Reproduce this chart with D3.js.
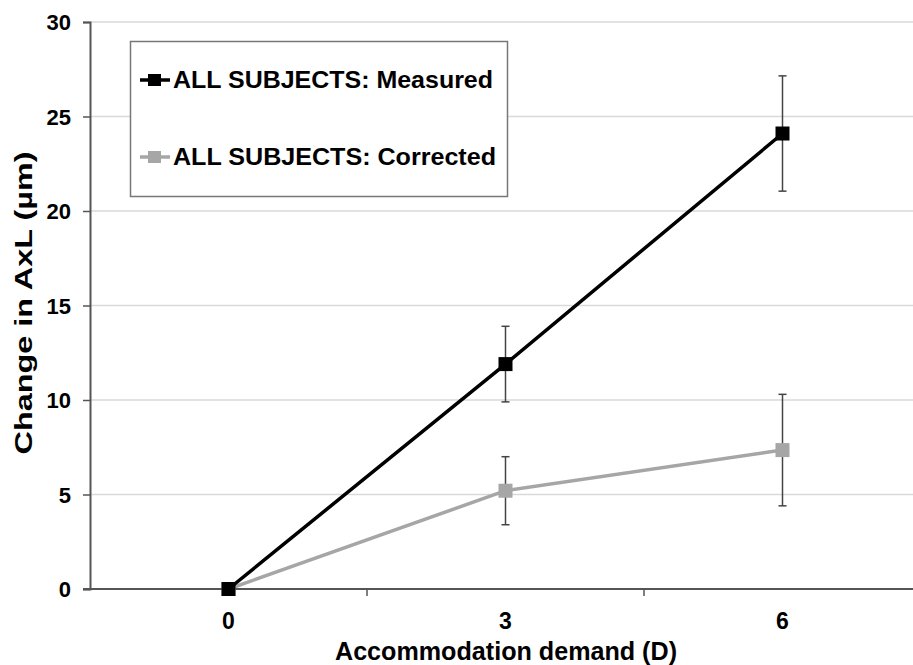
<!DOCTYPE html>
<html>
<head>
<meta charset="utf-8">
<script src="https://cdn.jsdelivr.net/npm/d3@7"></script>
<style>
  body { margin: 0; background: #fff; }
  text { font-family: "Liberation Sans", Arial, sans-serif; font-weight: bold; fill: #000; }
</style>
</head>
<body>
<div id="chart"></div>
<script>
// demand levels (D)
var demands = ["0", "3", "6"];
var measured = [0, 11.9, 24.1];
var measuredErr = [0, 2.0, 3.05];
var corrected = [0, 5.2, 7.35];
var correctedErr = [0, 1.8, 2.95];
var yTicks = [0, 5, 10, 15, 20, 25, 30];

var series = [
  { name: "ALL SUBJECTS: Measured", values: measured, err: measuredErr, color: "#000" },
  { name: "ALL SUBJECTS: Corrected", values: corrected, err: correctedErr, color: "#a6a6a6" }
];

var svg = d3.select("#chart")
    .append("svg")
    .attr("width", 913)
    .attr("height", 665);

var x = d3.scaleBand().domain(demands).range([90, 921]);
var y = d3.scaleLinear().domain([0, 30]).range([589, 22]);

// grid
svg.append("g")
    .selectAll("line")
    .data(yTicks.filter(function(d) { return d > 0; }))
    .enter().append("line")
    .attr("x1", 90).attr("x2", 913)
    .attr("y1", function(d) { return y(d); })
    .attr("y2", function(d) { return y(d); })
    .attr("stroke", "#d9d9d9")
    .attr("stroke-width", 1.5);

// y axis
var yAxis = svg.append("g")
    .attr("transform", "translate(90,0)")
    .call(d3.axisLeft(y).tickValues(yTicks).tickSize(7).tickPadding(12));
yAxis.select(".domain").attr("stroke", "#555").attr("stroke-width", 2);
yAxis.selectAll(".tick line").attr("stroke", "#555").attr("stroke-width", 1.5);
yAxis.selectAll(".tick text")
    .attr("dy", "0.36em")
    .style("font-size", "22px").style("font-family", "Liberation Sans, Arial, sans-serif").style("font-weight", "bold");

// x axis
var xAxis = svg.append("g")
    .attr("transform", "translate(0,589)")
    .call(d3.axisBottom(x).tickSize(0).tickPadding(24));
xAxis.select(".domain").remove();
xAxis.selectAll(".tick text")
    .style("font-size", "23px").style("font-family", "Liberation Sans, Arial, sans-serif").style("font-weight", "bold");
svg.append("line")
    .attr("x1", 83).attr("x2", 913)
    .attr("y1", 589).attr("y2", 589)
    .attr("stroke", "#555").attr("stroke-width", 2);
var bounds = demands.map(function(d) { return x(d); }).concat([x.range()[1]]);
svg.append("g")
    .selectAll("line")
    .data(bounds.slice(1))
    .enter().append("line")
    .attr("x1", function(d) { return d; }).attr("x2", function(d) { return d; })
    .attr("y1", 589).attr("y2", 596)
    .attr("stroke", "#555").attr("stroke-width", 1.5);

// axis titles
svg.append("text")
    .attr("x", 506).attr("y", 660)
    .attr("text-anchor", "middle")
    .attr("textLength", 342)
    .attr("lengthAdjust", "spacingAndGlyphs")
    .style("font-size", "25px")
    .text("Accommodation demand (D)");
svg.append("text")
    .attr("transform", "translate(32,303) rotate(-90)")
    .attr("text-anchor", "middle")
    .attr("textLength", 303)
    .attr("lengthAdjust", "spacingAndGlyphs")
    .style("font-size", "24px")
    .text("Change in AxL (µm)");

var cx = function(i) { return x(demands[i]) + x.bandwidth() / 2; };
var line = d3.line()
    .x(function(d, i) { return cx(i); })
    .y(function(d) { return y(d); });

// series drawn corrected first so measured sits on top
series.slice().reverse().forEach(function(s) {
  var g = svg.append("g");
  g.append("path")
      .datum(s.values)
      .attr("d", line)
      .attr("fill", "none")
      .attr("stroke", s.color)
      .attr("stroke-width", 3.5);
  var eb = g.selectAll(".err")
      .data(s.values.map(function(v, i) { return { v: v, e: s.err[i], i: i }; }).filter(function(d) { return d.e > 0; }))
      .enter().append("g");
  eb.append("line")
      .attr("x1", function(d) { return cx(d.i); }).attr("x2", function(d) { return cx(d.i); })
      .attr("y1", function(d) { return y(d.v + d.e); }).attr("y2", function(d) { return y(d.v - d.e); })
      .attr("stroke", "#444").attr("stroke-width", 1.5);
  [1, -1].forEach(function(sgn) {
    eb.append("line")
        .attr("x1", function(d) { return cx(d.i) - 4; }).attr("x2", function(d) { return cx(d.i) + 4; })
        .attr("y1", function(d) { return y(d.v + sgn * d.e); }).attr("y2", function(d) { return y(d.v + sgn * d.e); })
        .attr("stroke", "#444").attr("stroke-width", 1.5);
  });
  g.selectAll("rect")
      .data(s.values)
      .enter().append("rect")
      .attr("x", function(d, i) { return cx(i) - 7; })
      .attr("y", function(d) { return y(d) - 7; })
      .attr("width", 14).attr("height", 14)
      .attr("fill", s.color);
});

// legend
var legend = svg.append("g");
legend.append("rect")
    .attr("x", 130.5).attr("y", 41.5)
    .attr("width", 377).attr("height", 155)
    .attr("fill", "#fff")
    .attr("stroke", "#777")
    .attr("stroke-width", 1.5);
series.forEach(function(s, i) {
  var ly = 80 + i * 77;
  legend.append("line")
      .attr("x1", 140).attr("x2", 170)
      .attr("y1", ly).attr("y2", ly)
      .attr("stroke", s.color).attr("stroke-width", 3.5);
  legend.append("rect")
      .attr("x", 148).attr("y", ly - 6)
      .attr("width", 13).attr("height", 12)
      .attr("fill", s.color);
  legend.append("text")
      .attr("x", 173).attr("y", ly + 8)
      .attr("textLength", i === 0 ? 320 : 323)
      .attr("lengthAdjust", "spacingAndGlyphs")
      .style("font-size", "24px")
      .text(s.name);
});
</script>
</body>
</html>
